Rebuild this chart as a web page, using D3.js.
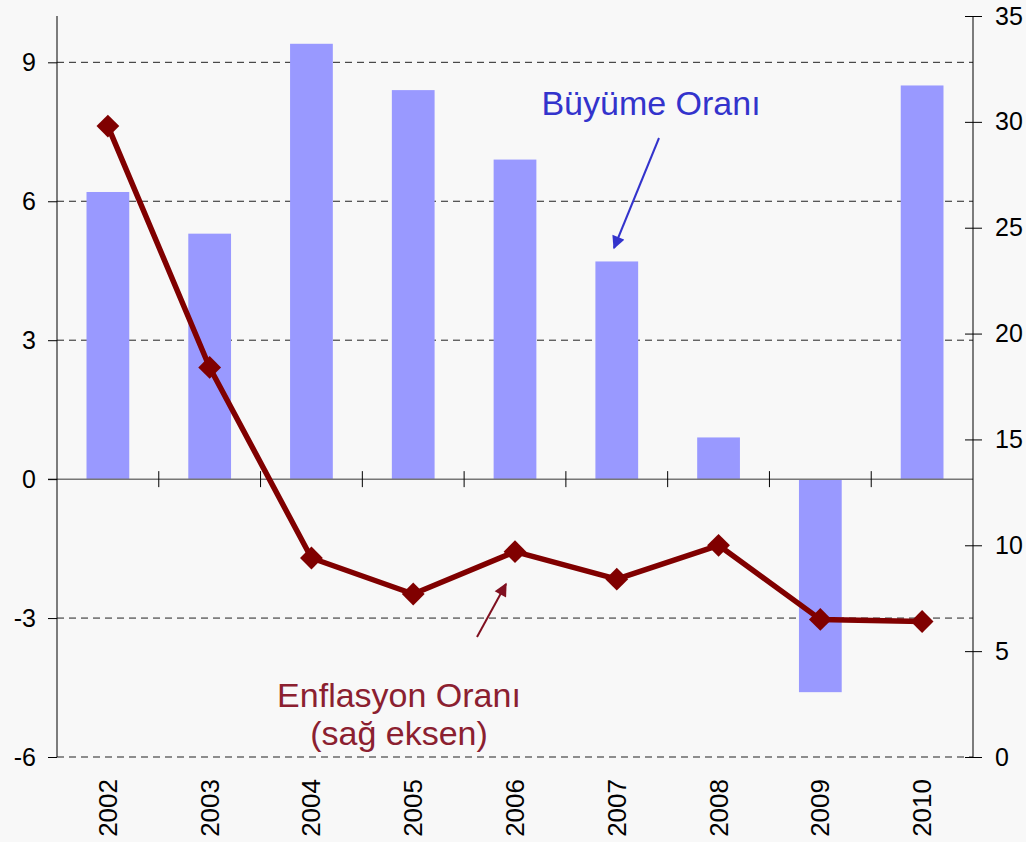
<!DOCTYPE html>
<html>
<head>
<meta charset="utf-8">
<script src="https://d3js.org/d3.v7.min.js"></script>
<style>
  body { margin: 0; background: #f8f8f8; }
  svg { display: block; font-family: "Liberation Sans", Arial, sans-serif; }
</style>
</head>
<body>
<script>
// data
var years = ["2002", "2003", "2004", "2005", "2006", "2007", "2008", "2009", "2010"];
var growth = [6.2, 5.3, 9.4, 8.4, 6.9, 4.7, 0.9, -4.6, 8.5];      // Büyüme Oranı (left)
var inflation = [29.8, 18.4, 9.4, 7.7, 9.7, 8.4, 10.0, 6.5, 6.4]; // Enflasyon Oranı (right)
var leftTicks = [-6, -3, 0, 3, 6, 9];
var rightTicks = [0, 5, 10, 15, 20, 25, 30, 35];

var W = 1026, H = 842;
var margin = {top: 16, right: 53, bottom: 85, left: 57},
    width = W - margin.left - margin.right,
    height = H - margin.top - margin.bottom;

var svg = d3.select("body").append("svg")
    .attr("width", W).attr("height", H);
svg.append("rect").attr("width", W).attr("height", H).attr("fill", "#f8f8f8");

var g = svg.append("g").attr("transform", "translate(" + margin.left + "," + margin.top + ")");

var x = d3.scaleBand().domain(years).range([0, width]).padding(0);
var y = d3.scaleLinear().domain([-6, 10]).range([height, 0]);
var y2 = d3.scaleLinear().domain([0, 35]).range([height, 0]);
var barW = x.bandwidth() * 0.42;

// dashed grid lines
g.append("g").selectAll("line")
  .data(leftTicks.filter(function(d) { return d !== 0; }))
  .enter().append("line")
    .attr("x1", 0).attr("x2", width)
    .attr("y1", function(d) { return y(d); })
    .attr("y2", function(d) { return y(d); })
    .attr("stroke", "#222").attr("stroke-width", 1)
    .attr("stroke-dasharray", "7,5");

// bars
g.append("g").selectAll("rect")
  .data(growth)
  .enter().append("rect")
    .attr("x", function(d, i) { return x(years[i]) + (x.bandwidth() - barW) / 2; })
    .attr("y", function(d) { return y(Math.max(0, d)); })
    .attr("width", barW)
    .attr("height", function(d) { return Math.abs(y(d) - y(0)); })
    .attr("fill", "#9999ff");

// zero line with category ticks
g.append("line")
    .attr("x1", -9).attr("x2", width)
    .attr("y1", y(0)).attr("y2", y(0))
    .attr("stroke", "#777").attr("stroke-width", 1.5);
g.append("g").selectAll("line")
  .data(years.slice(1))
  .enter().append("line")
    .attr("x1", function(d) { return x(d); })
    .attr("x2", function(d) { return x(d); })
    .attr("y1", y(0) - 8).attr("y2", y(0) + 8)
    .attr("stroke", "#000").attr("stroke-width", 1);

// left axis
var yAxis = g.append("g")
    .call(d3.axisLeft(y).tickValues(leftTicks).tickSize(9).tickPadding(12));
yAxis.select(".domain").attr("d", "M0," + height + "V0").attr("stroke", "#000");
yAxis.selectAll(".tick text").attr("font-size", 25).attr("fill", "#000")
    .text(function(d) { return d < 0 ? "-" + Math.abs(d) : d; });

// right axis
var yAxis2 = g.append("g")
    .attr("transform", "translate(" + width + ",0)")
    .call(d3.axisRight(y2).tickValues(rightTicks).tickSize(9).tickPadding(13));
yAxis2.select(".domain").attr("d", "M0," + height + "V0").attr("stroke", "#000");
yAxis2.selectAll(".tick line").attr("x1", -8);
yAxis2.selectAll(".tick text").attr("font-size", 25).attr("fill", "#000");

// x labels
g.append("g").selectAll("text")
  .data(years)
  .enter().append("text")
    .attr("transform", function(d) {
      return "translate(" + (x(d) + x.bandwidth() / 2 + 9) + "," + (height + 22) + ") rotate(-90)";
    })
    .attr("text-anchor", "end")
    .attr("font-size", 26)
    .text(function(d) { return d; });

// inflation line
var line = d3.line()
    .x(function(d, i) { return x(years[i]) + x.bandwidth() / 2; })
    .y(function(d) { return y2(d); });
g.append("path")
    .datum(inflation)
    .attr("d", line)
    .attr("fill", "none")
    .attr("stroke", "#800000")
    .attr("stroke-width", 5.5)
    .attr("stroke-linejoin", "round");
g.append("g").selectAll("path")
  .data(inflation)
  .enter().append("path")
    .attr("d", d3.symbol().type(d3.symbolSquare).size(260))
    .attr("transform", function(d, i) {
      return "translate(" + (x(years[i]) + x.bandwidth() / 2) + "," + y2(d) + ") rotate(45)";
    })
    .attr("fill", "#800000");

// annotations
var defs = svg.append("defs");
function marker(id, color) {
  defs.append("marker").attr("id", id)
      .attr("viewBox", "0 0 10 10").attr("refX", 9).attr("refY", 5)
      .attr("markerWidth", 7.5).attr("markerHeight", 6.5)
      .attr("markerUnits", "strokeWidth")
      .attr("orient", "auto")
    .append("path").attr("d", "M0,0 L10,5 L0,10 z").attr("fill", color);
}
marker("arrB", "#3333cc");
marker("arrR", "#801020");

svg.append("text").attr("x", 651).attr("y", 115)
    .attr("text-anchor", "middle").attr("font-size", 34).attr("fill", "#3333cc")
    .text("Büyüme Oranı");
svg.append("line").attr("x1", 659).attr("y1", 138).attr("x2", 614).attr("y2", 248)
    .attr("stroke", "#3333cc").attr("stroke-width", 2).attr("marker-end", "url(#arrB)");

svg.append("text").attr("x", 399).attr("y", 707)
    .attr("text-anchor", "middle").attr("font-size", 34).attr("fill", "#8b2030")
    .text("Enflasyon Oranı");
svg.append("text").attr("x", 399).attr("y", 745)
    .attr("text-anchor", "middle").attr("font-size", 34).attr("fill", "#8b2030")
    .text("(sağ eksen)");
svg.append("line").attr("x1", 477).attr("y1", 637).attr("x2", 506).attr("y2", 584)
    .attr("stroke", "#801020").attr("stroke-width", 2).attr("marker-end", "url(#arrR)");
</script>
</body>
</html>
